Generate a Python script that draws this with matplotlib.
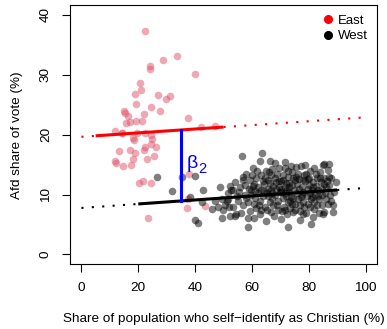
import matplotlib

matplotlib.use('Agg')
import matplotlib.pyplot as plt
from matplotlib.lines import Line2D

plt.rcParams['font.family'] = ['Liberation Sans', 'DejaVu Sans']

# East districts (Christian share %, AfD vote %)
east_x = [22.5, 33.7, 28.8, 24.2, 24.2, 39.9, 20.5, 20.8, 18.8, 27.0, 31.0, 29.7,
          19.1, 24.6, 27.7, 15.1, 15.4, 16.4, 22.2, 37.6, 19.1, 21.3, 17.1, 15.8,
          11.7, 14.3, 14.4, 22.5, 19.5, 24.6, 18.0, 18.4, 24.8, 22.5, 26.3, 24.6,
          21.9, 13.1, 17.2, 18.7, 18.1, 25.7, 23.0, 11.9, 12.3, 14.8, 17.5, 20.1,
          21.5, 24.6, 23.4, 37.3, 43.5, 37.6, 38.0, 42.0, 47.1]
east_y = [37.4, 33.2, 32.4, 31.4, 30.9, 30.2, 28.6, 27.4, 26.8, 26.6, 26.5, 25.9,
          25.2, 24.7, 24.0, 24.0, 23.7, 23.2, 23.4, 22.8, 22.3, 22.3, 22.2, 21.9,
          20.6, 20.3, 20.2, 20.3, 20.2, 19.9, 19.4, 19.1, 19.2, 17.9, 18.0, 18.5,
          17.4, 17.3, 17.4, 16.9, 16.0, 16.4, 15.9, 15.6, 15.3, 14.7, 14.9, 11.9,
          12.3, 12.0, 6.1, 7.7, 8.1, 9.2, 13.4, 21.3, 21.4]

# West districts
west_x = [26.6, 32.0, 35.3, 40.0, 38.2, 39.8, 41.2, 42.9, 42.3, 45.9, 48.8, 48.2,
          49.9, 49.4, 49.4, 47.0,
          51.7, 51.1, 52.3, 53.4, 52.3, 54.4, 53.9, 52.7, 51.6, 53.3, 53.9, 50.5,
          54.8, 52.0,
          56.6, 56.8, 57.4, 55.1, 56.8, 58.6, 58.6, 56.7, 55.5, 57.5, 59.0, 58.0,
          59.5, 56.0, 57.8, 59.2, 55.8, 58.8, 59.8,
          63.6, 62.9, 60.5, 63.3, 60.9, 64.4, 59.8, 63.3, 62.7, 63.3, 60.9, 65.0,
          60.5, 61.5, 62.0, 64.0, 61.0, 62.5, 64.5, 61.5, 63.8, 60.2, 64.8, 61.8,
          62.2, 64.2, 60.8, 63.0, 64.6, 61.2,
          66.2, 69.5, 66.8, 68.5, 66.8, 66.2, 69.1, 66.8, 65.5, 67.5, 68.0, 69.5,
          65.8, 67.2, 68.8, 65.3, 67.8, 69.0, 67.0, 68.3, 65.7, 69.8, 66.5, 68.6,
          67.5, 69.3, 65.2, 66.0, 68.0, 69.7, 67.2,
          71.7, 70.9, 72.0, 70.3, 72.6, 70.3, 72.6, 73.8, 73.2, 73.8, 74.4, 71.0,
          72.8, 74.5, 71.5, 73.0, 74.8, 70.8, 72.0, 74.0, 71.2, 73.5, 70.5, 72.5,
          71.8, 74.2, 73.0, 70.2, 71.5, 72.3, 74.6, 73.4, 71.8, 70.4, 72.8, 74.0,
          76.1, 79.1, 75.0, 77.9, 76.7, 79.6, 77.3, 75.0, 78.5, 77.9, 75.5, 77.2,
          78.8, 76.0, 78.0, 79.3, 75.8, 77.5, 78.8, 76.3, 78.0, 79.8, 75.3, 76.8,
          79.0, 77.0, 75.6, 78.4, 76.5, 79.6, 77.8, 76.9,
          82.6, 81.4, 84.3, 83.2, 80.8, 83.7, 82.0, 81.4, 80.8, 80.5, 82.0, 83.8,
          80.2, 82.5, 84.5, 81.0, 82.2, 84.8, 80.3, 81.8, 83.0, 84.5, 80.6, 83.5,
          82.8, 81.5, 84.0, 80.2, 83.3, 81.2,
          85.3, 87.3, 86.7, 87.3, 89.6, 86.7, 85.5, 88.4, 85.0, 85.0, 85.5, 86.2,
          88.0, 85.8, 87.5, 88.8, 86.0, 87.8, 85.3, 88.5, 87.0, 86.5]
west_y = [12.9, 10.6, 12.9, 13.1, 9.6, 5.7, 5.2, 10.7, 8.8, 7.6, 11.2, 7.9,
          7.4, 9.3, 6.0, 9.0,
          10.2, 9.0, 11.4, 10.7, 6.5, 6.8, 12.1, 10.7, 9.3, 7.9, 6.4, 8.3,
          9.8, 8.0,
          16.5, 12.9, 11.6, 9.0, 8.2, 8.8, 4.6, 12.4, 10.5, 10.0, 11.0, 9.5,
          7.2, 7.0, 13.5, 12.5, 11.2, 6.0, 10.0,
          16.9, 15.6, 14.5, 13.3, 11.8, 11.8, 10.7, 10.7, 9.0, 7.4, 6.1, 5.6,
          11.4, 12.8, 10.2, 9.8, 9.5, 8.3, 8.0, 7.8, 12.3, 13.2, 14.0, 14.0,
          11.3, 10.6, 8.5, 6.8, 12.8, 10.6,
          15.6, 14.5, 13.3, 12.1, 10.7, 8.8, 9.0, 7.1, 12.5, 11.5, 10.0, 11.3,
          9.8, 9.5, 8.2, 7.5, 6.5, 13.5, 14.2, 15.2, 11.0, 10.5, 12.0, 11.0,
          8.2, 7.5, 10.3, 13.8, 12.8, 12.2, 10.2,
          14.4, 13.2, 11.9, 11.0, 8.8, 5.9, 4.5, 14.8, 11.3, 9.6, 7.1, 12.5,
          13.0, 12.8, 10.2, 10.5, 10.8, 9.5, 9.8, 8.5, 8.0, 7.8, 7.2, 6.8,
          15.5, 13.8, 12.0, 12.2, 11.2, 10.8, 9.4, 9.0, 7.4, 10.4, 14.0, 11.6,
          13.5, 13.5, 12.4, 12.4, 11.0, 11.0, 9.6, 8.5, 7.9, 6.8, 14.6, 14.8,
          15.0, 10.2, 10.5, 9.8, 11.8, 11.2, 12.2, 9.2, 8.8, 8.5, 7.5, 7.3,
          7.0, 5.8, 13.0, 13.2, 12.6, 12.6, 10.0, 8.3,
          13.5, 12.1, 12.1, 10.7, 9.3, 9.3, 7.6, 6.2, 5.1, 14.0, 14.5, 13.8,
          12.8, 11.5, 11.0, 10.8, 10.0, 10.0, 10.3, 8.8, 8.3, 8.2, 8.0, 7.0,
          12.8, 11.2, 12.8, 11.6, 9.8, 9.6,
          15.1, 15.1, 14.1, 11.6, 12.1, 8.5, 7.1, 7.1, 6.8, 14.9, 12.8, 11.2,
          12.8, 10.2, 10.0, 10.5, 9.2, 9.0, 11.8, 8.3, 13.0, 12.2]

# fitted lines: intercept, slope, and x-range of the observed data
east_fit = (19.65, 0.0325)
east_span = (5, 50)
west_fit = (7.76, 0.0334)
west_span = (20, 90)
beta_x = 35

fig = plt.figure(figsize=(3.87, 3.29), dpi=100)
ax = fig.add_axes([0.181, 0.1976, 0.793, 0.786])

ax.scatter(east_x, east_y, s=30, color='#DF536B', alpha=0.5, linewidths=0, zorder=2)
ax.scatter(west_x, west_y, s=30, color='black', alpha=0.5, linewidths=0, zorder=2)


def fit_line(fit, x0, x1, **kw):
    a, b = fit
    ax.plot([x0, x1], [a + b * x0, a + b * x1], **kw)


dotted = (0, (1, 4))
fit_line(east_fit, 0, east_span[0], color='red', lw=1.5, ls=dotted, zorder=3)
fit_line(east_fit, east_span[1], 100, color='red', lw=1.5, ls=dotted, zorder=3)
fit_line(east_fit, *east_span, color='red', lw=2.2, solid_capstyle='butt', zorder=3)
fit_line(west_fit, 0, west_span[0], color='black', lw=1.5, ls=dotted, zorder=3)
fit_line(west_fit, west_span[1], 100, color='black', lw=1.5, ls=dotted, zorder=3)
fit_line(west_fit, *west_span, color='black', lw=2.2, solid_capstyle='butt', zorder=3)

# gap between the two fits
y_lo = west_fit[0] + west_fit[1] * beta_x
y_hi = east_fit[0] + east_fit[1] * beta_x
ax.plot([beta_x, beta_x], [y_lo, y_hi], color='blue', lw=2.2, zorder=4)
ax.text(37.0, 14.4, 'β', color='blue', fontsize=14, ha='left', va='baseline')
ax.text(41.0, 13.6, '2', color='blue', fontsize=10.5, ha='left', va='baseline')

handles = [Line2D([], [], ls='none', marker='o', ms=5.5, color='red'),
           Line2D([], [], ls='none', marker='o', ms=5.5, color='black')]
ax.legend(handles, ['East', 'West'], loc='upper right', frameon=False, fontsize=9.5,
          handletextpad=0.1, handlelength=1.2, labelspacing=0.25,
          borderaxespad=0.3)

ax.set_xlim(-4, 104)
ax.set_ylim(-1.6, 41.6)
ax.set_xticks([0, 20, 40, 60, 80, 100])
ax.set_yticks([0, 10, 20, 30, 40])
ax.tick_params(direction='out', length=6, width=0.8, labelsize=9.7, pad=7)
for lab in ax.get_yticklabels():
    lab.set_rotation(90)
    lab.set_va('center')
for sp in ax.spines.values():
    sp.set_linewidth(0.8)

ax.set_xlabel('Share of population who self\u2212identify as Christian (%)', fontsize=9.7,
              labelpad=14)
ax.set_ylabel('Afd share of vote (%)', fontsize=9.7, labelpad=12)

plt.savefig('out.png', dpi=100)
plt.close()
